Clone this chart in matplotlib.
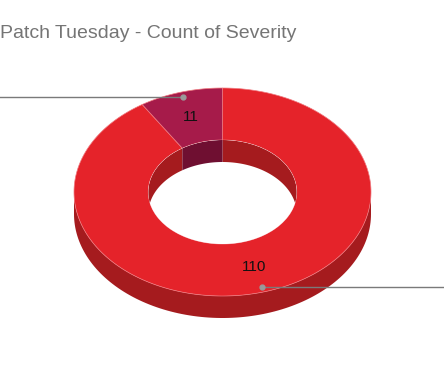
import numpy as np
import matplotlib
matplotlib.use("Agg")
import matplotlib.pyplot as plt
from matplotlib.patches import Polygon, Ellipse

plt.rcParams['font.family'] = ['Liberation Sans', 'DejaVu Sans']

title = "Patch Tuesday - Count of Severity"
categories = ["Critical", "Important"]
values = [110, 11]
top_colors = ["#e5232a", "#a61b4a"]
side_colors = ["#a51b1e", "#6f0f31"]

W, H = 444, 371
fig = plt.figure(figsize=(W / 100, H / 100), dpi=100)
ax = fig.add_axes([0, 0, 1, 1])
ax.set_xlim(0, W)
ax.set_ylim(H, 0)
ax.axis('off')

cx, cy = 222.5, 192.0
rx, ry = 148.5, 104.0
hole = 0.5
depth = 22.0

def pt(theta_deg, r=1.0, dz=0.0):
    t = np.radians(theta_deg)
    return np.column_stack([cx + r * rx * np.cos(t), cy - r * ry * np.sin(t) + dz])

# slice angles (math degrees): clockwise from top
total = sum(values)
starts, ends = [], []
acc = 0
for v in values:
    a1 = 90 - 360 * acc / total
    acc += v
    a2 = 90 - 360 * acc / total
    starts.append(a2)
    ends.append(a1)

def norm_ranges(a, b, lo, hi):
    out = []
    for k in (-720, -360, 0, 360):
        s, e = max(a + k, lo), min(b + k, hi)
        if e > s:
            out.append((s, e))
    return out

# outer side wall (front half)
for i in range(len(values)):
    for s, e in norm_ranges(starts[i], ends[i], 180, 360):
        th = np.linspace(s, e, 120)
        poly = np.vstack([pt(th), pt(th[::-1], dz=depth)])
        ax.add_patch(Polygon(poly, closed=True, fc=side_colors[i], ec='none', zorder=1))

# top face annulus slices
for i in range(len(values)):
    th = np.linspace(starts[i], ends[i], 300)
    poly = np.vstack([pt(th), pt(th[::-1], r=hole)])
    ax.add_patch(Polygon(poly, closed=True, fc=top_colors[i], ec='#f07a80', lw=0.5, zorder=2))

# hole and inner wall (back half), clipped to hole
hole_patch = Ellipse((cx, cy), 2 * rx * hole, 2 * ry * hole, fc='white', ec='none', zorder=3)
ax.add_patch(hole_patch)
for i in range(len(values)):
    for s, e in norm_ranges(starts[i], ends[i], 0, 180):
        th = np.linspace(s, e, 120)
        poly = np.vstack([pt(th, r=hole), pt(th[::-1], r=hole, dz=depth)])
        p = Polygon(poly, closed=True, fc=side_colors[i], ec='none', zorder=4)
        ax.add_patch(p)
        p.set_clip_path(hole_patch)

# data labels and leader lines
for i, v in enumerate(values):
    mid = (starts[i] + ends[i]) / 2
    lx, ly = pt(mid, r=0.75)[0]
    ax.text(lx, ly, str(v), ha='center', va='center', fontsize=11, color='#111111', zorder=6)
    dx, dy = pt(mid, r=0.955)[0]
    xend = W if np.cos(np.radians(mid)) > 0 else 0
    ax.plot([dx, xend], [dy, dy], color='#7a7a7a', lw=1, zorder=6)
    ax.plot([dx], [dy], 'o', ms=3.5, color='#9a9a9a', zorder=7)

ax.text(0, 38, title, ha='left', va='baseline', fontsize=14, color='#757575')

fig.savefig("out.png", dpi=100)
